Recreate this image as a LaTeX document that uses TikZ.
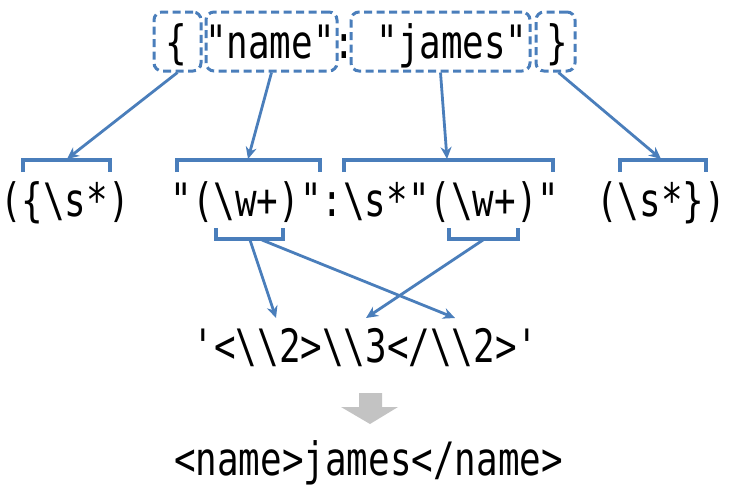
\documentclass[tikz,border=0pt]{standalone}
\usepackage{fontspec}
\setmonofont{DejaVu Sans Mono}[FakeStretch=0.78]
\usetikzlibrary{arrows.meta}
\definecolor{jblue}{RGB}{74,126,187}
\definecolor{jgray}{RGB}{195,195,195}
\newcommand\BS{\textbackslash}
\begin{document}
\begin{tikzpicture}[x=1pt,y=-1pt,
  code/.style={font=\ttfamily\fontsize{46}{50}\selectfont, inner sep=0pt, anchor=base},
  tokbox/.style={draw=jblue, line width=3pt, dash pattern=on 8pt off 4.5pt, rounded corners=8pt, inner sep=0pt, minimum height=59pt},
  brk/.style={draw=jblue, line width=3.5pt},
  link/.style={draw=jblue, line width=2.8pt, -{Stealth[length=12pt,width=11pt]}},
  bigarrow/.style={fill=jgray, draw=none}]
\useasboundingbox (0,0) rectangle (730,491);
% top row boxes
\node[tokbox, minimum width=47pt]  (b1) at (177.5,41.5) {};
\node[tokbox, minimum width=131pt] (b2) at (271.5,41.5) {};
\node[tokbox, minimum width=179pt] (b3) at (440.5,41.5) {};
\node[tokbox, minimum width=39pt]  (b4) at (555.5,41.5) {};
% top row text
\node[code] (t1) at (176,58) {\{};
\node[code] (t2) at (270,58) {"name"};
\node[code] (t3) at (344,58) {:};
\node[code] (t4) at (452,58) {"james"};
\node[code] (t5) at (557,58) {\}};
% second row text
\node[code] (r1) at (65,216) {(\{\BS s*)};
\node[code] (r2) at (365,216) {"(\BS w+)":\BS s*"(\BS w+)"};
\node[code] (r3) at (661,216) {(\BS s*\})};
% upper brackets
\draw[brk] (23,172) -- (23,160) -- (110,160) -- (110,172);
\draw[brk] (177,172) -- (177,160) -- (320,160) -- (320,172);
\draw[brk] (344,172) -- (344,160) -- (553,160) -- (553,172);
\draw[brk] (620,172) -- (620,160) -- (706,160) -- (706,172);
\coordinate (k1) at (67,159);
\coordinate (k2) at (248,159);
\coordinate (k3) at (447,159);
\coordinate (k4) at (661,159);
\draw[link] (b1.south) -- (k1);
\draw[link] (b2.south) -- (k2);
\draw[link] (b3.south) -- (k3);
\draw[link] ([xshift=3pt]b4.south) -- (k4);
% lower brackets
\draw[brk] (216,228) -- (216,239) -- (283,239) -- (283,228);
\draw[brk] (449,228) -- (449,239) -- (518,239) -- (518,228);
\coordinate (la) at (250,240);
\coordinate (lb) at (262,240);
\coordinate (lc) at (483,240);
% third row
\node[code] (q1) at (365.5,362) {'<\BS\BS 2>\BS\BS 3</\BS\BS 2>'};
\coordinate (p1) at (276,318);
\coordinate (p2) at (366,318);
\coordinate (p3) at (455,318);
\draw[link] (la) -- (p1);
\draw[link] (lb) -- (p3);
\draw[link] (lc) -- (p2);
% gray arrow
\fill[bigarrow] (359,393) -- (382,393) -- (382,407) -- (398,407) -- (370,424) -- (341,407) -- (359,407) -- cycle;
% result
\node[code] (res) at (368.5,475) {<name>james</name>};
\end{tikzpicture}
\end{document}
